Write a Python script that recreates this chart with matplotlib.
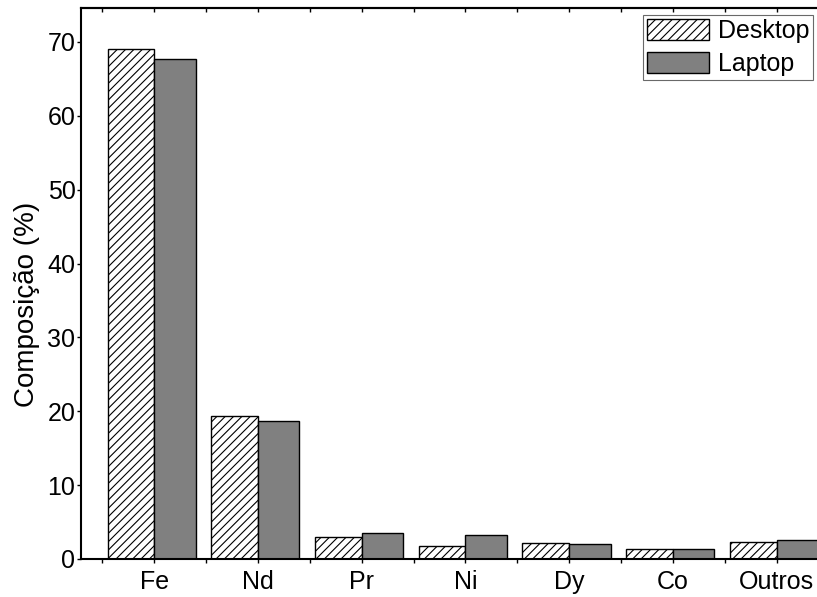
import matplotlib
matplotlib.use("Agg")
import matplotlib.pyplot as plt
import numpy as np

plt.rcParams['font.family'] = ['Liberation Sans', 'DejaVu Sans']
plt.rcParams['hatch.linewidth'] = 0.8

elements = ["Fe", "Nd", "Pr", "Ni", "Dy", "Co", "Outros"]
desktop = [69.0, 19.3, 3.0, 1.8, 2.1, 1.35, 2.35]
laptop = [67.7, 18.7, 3.55, 3.25, 2.0, 1.35, 2.6]
yticks = [0, 10, 20, 30, 40, 50, 60, 70]

FS = 18
W, H = 817, 597
fig = plt.figure(figsize=(W / 100, H / 100), dpi=100)

# axes run slightly past the right edge of the canvas
x_lo, x_hi = 0.293, 7.5
ax_left, ax_bottom, ax_top = 81, 559, 8
unit = 103.7
ax_w = (x_hi - x_lo) * unit
ax = fig.add_axes([ax_left / W, (H - ax_bottom) / H, ax_w / W, (ax_bottom - ax_top) / H])

x = np.arange(1, len(elements) + 1)
ax.bar(x - 0.45, desktop, width=0.45, align='edge', facecolor='white', edgecolor='black',
       hatch='////', linewidth=1.0, label='Desktop')
ax.bar(x, laptop, width=0.40, align='edge', facecolor='#808080', edgecolor='black',
       linewidth=1.0, label='Laptop')

ax.set_xlim(x_lo, x_hi)
ax.set_ylim(0, 74.6)
ax.set_xticks(x)
ax.set_xticklabels(elements, fontsize=FS)
ax.set_xticks(x - 0.5, minor=True)
ax.set_yticks(yticks)
ax.set_yticklabels([str(v) for v in yticks], fontsize=FS)
ax.tick_params(axis='both', which='both', direction='out', length=3, width=1.0)
ax.tick_params(axis='y', pad=1)
ax.tick_params(axis='x', which='major', pad=5)

top = ax.secondary_xaxis('top')
top.set_xticks(list(x) + list(x - 0.5))
top.tick_params(direction='in', length=3, width=1.0, labeltop=False)
top.spines['top'].set_linewidth(1.5)

for s in ax.spines.values():
    s.set_linewidth(1.5)

ax.set_ylabel("Composição (%)", fontsize=20, va='center')
ax.yaxis.set_label_coords((27 - ax_left) / ax_w, (ax_bottom - 304) / (ax_bottom - ax_top))

leg = ax.legend(loc='upper right', bbox_to_anchor=(813 / W, 1 - 15 / H),
                bbox_transform=fig.transFigure, borderaxespad=0, fontsize=FS,
                frameon=True, fancybox=False, shadow=False, borderpad=0.15,
                handlelength=2.5, handleheight=0.95, handletextpad=0.35,
                labelspacing=0.35)
leg.get_frame().set_edgecolor('#444444')
leg.get_frame().set_linewidth(0.8)

fig.savefig("out.png", dpi=100)
